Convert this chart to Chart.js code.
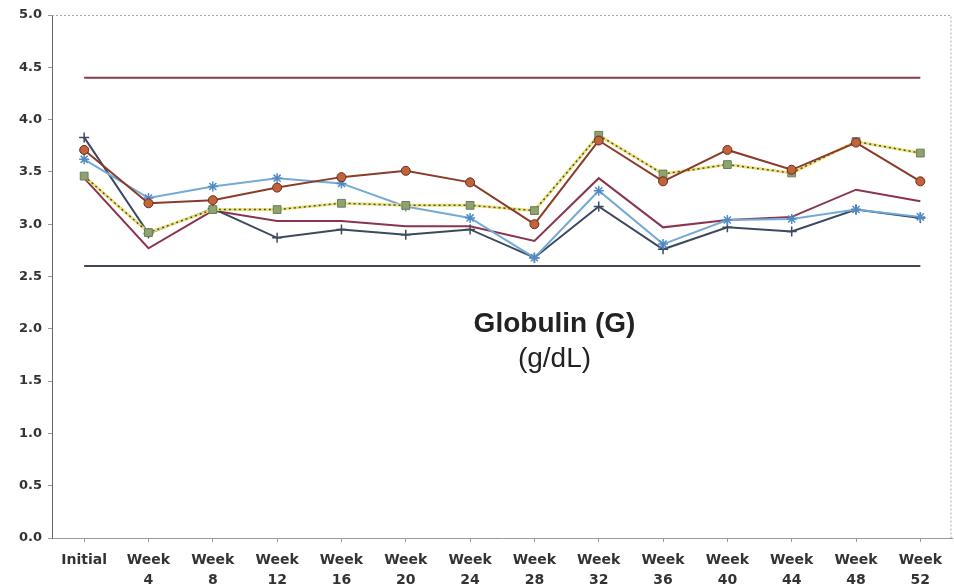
<!DOCTYPE html>
<html>
<head>
<meta charset="utf-8">
<script src="https://cdn.jsdelivr.net/npm/chart.js@4.4.1/dist/chart.umd.min.js"></script>
<style>
  html, body { margin: 0; padding: 0; background: #fff; overflow: hidden; }
  #wrap { width: 959px; height: 588px; }
</style>
</head>
<body>
<div id="wrap"><canvas id="globulin-chart"></canvas></div>
<script>
// visits along the x axis
const visits = [
  ["Initial"], ["Week", "4"], ["Week", "8"], ["Week", "12"], ["Week", "16"],
  ["Week", "20"], ["Week", "24"], ["Week", "28"], ["Week", "32"], ["Week", "36"],
  ["Week", "40"], ["Week", "44"], ["Week", "48"], ["Week", "52"],
];

// globulin values, g/dL
const circleGroup = [3.71, 3.20, 3.23, 3.35, 3.45, 3.51, 3.40, 3.00, 3.80, 3.41, 3.71, 3.52, 3.78, 3.41];
const squareGroup = [3.46, 2.92, 3.14, 3.14, 3.20, 3.18, 3.18, 3.13, 3.85, 3.48, 3.57, 3.49, 3.79, 3.68];
const starGroup   = [3.62, 3.25, 3.36, 3.44, 3.39, 3.17, 3.06, 2.68, 3.32, 2.81, 3.04, 3.05, 3.14, 3.07];
const plusGroup   = [3.83, 2.91, 3.15, 2.87, 2.95, 2.90, 2.95, 2.68, 3.17, 2.76, 2.97, 2.93, 3.14, 3.06];
const plainGroup  = [3.44, 2.77, 3.13, 3.03, 3.03, 2.98, 2.98, 2.84, 3.44, 2.97, 3.04, 3.07, 3.33, 3.22];

// normal range
const upperLimit = 4.4;
const lowerLimit = 2.6;

const yTicks = [0, 0.5, 1, 1.5, 2, 2.5, 3, 3.5, 4, 4.5, 5];

const tickFont = { family: "DejaVu Sans", size: 14, weight: "bold", lineHeight: 1.4 };

// plot frame + caption inside the plot
const framePlugin = {
  id: "frame",
  beforeDatasetsDraw(chart) {
    const { ctx, chartArea: a } = chart;
    ctx.save();
    ctx.strokeStyle = "#a8a8a8";
    ctx.lineWidth = 1;
    ctx.setLineDash([2, 2]);
    ctx.beginPath();
    ctx.moveTo(a.left, a.top + 0.5);
    ctx.lineTo(a.right - 1.5, a.top + 0.5);
    ctx.lineTo(a.right - 1.5, a.bottom);
    ctx.stroke();
    ctx.restore();
  },
  afterDatasetsDraw(chart) {
    const { ctx, chartArea: a } = chart;
    const cx = a.left + a.width * 0.558;
    ctx.save();
    ctx.fillStyle = "#222";
    ctx.textAlign = "center";
    ctx.textBaseline = "alphabetic";
    ctx.font = "bold 28px 'Liberation Sans', Arial, sans-serif";
    ctx.fillText("Globulin (G)", cx, a.top + 317);
    ctx.font = "28px 'Liberation Sans', Arial, sans-serif";
    ctx.fillText("(g/dL)", cx, a.top + 352);
    ctx.restore();
  },
};

const limitLine = (value, color) => ({
  data: visits.map(() => value),
  borderColor: color,
  borderWidth: 2,
  pointRadius: 0,
});

const config = {
  type: "line",
  data: {
    labels: visits,
    datasets: [
      {
        label: "Group A",
        data: circleGroup,
        borderColor: "#8a3b2a",
        borderWidth: 2,
        pointStyle: "circle",
        pointRadius: 4.5,
        pointBackgroundColor: "#c0643c",
        pointBorderColor: "#6e2a1c",
        pointBorderWidth: 1,
      },
      {
        label: "Group B",
        data: squareGroup,
        borderColor: "#4e4e34",
        borderWidth: 1.5,
        borderDash: [2, 3],
        pointStyle: "rect",
        pointRadius: 5.5,
        pointBackgroundColor: "#8fa36e",
        pointBorderColor: "#6a7d58",
        pointBorderWidth: 1,
      },
      {
        label: "Group B (shade)",
        data: squareGroup,
        borderColor: "#ece27a",
        borderWidth: 3,
        pointRadius: 0,
      },
      {
        label: "Group C",
        data: starGroup,
        borderColor: "#74aad6",
        borderWidth: 2,
        pointStyle: "star",
        pointRadius: 5,
        pointBorderColor: "#4f8cc4",
        pointBorderWidth: 1.5,
      },
      {
        label: "Group D",
        data: plusGroup,
        borderColor: "#3c4a60",
        borderWidth: 2,
        pointStyle: "cross",
        pointRadius: 5,
        pointBorderColor: "#3c4a60",
        pointBorderWidth: 1.5,
      },
      {
        label: "Group E",
        data: plainGroup,
        borderColor: "#8a3450",
        borderWidth: 2,
        pointRadius: 0,
      },
      limitLine(upperLimit, "#8a3a4a"),
      limitLine(lowerLimit, "#3f4658"),
    ],
  },
  options: {
    responsive: true,
    maintainAspectRatio: false,
    animation: false,
    layout: { padding: { top: 15, right: 0, left: 0, bottom: 0 } },
    plugins: {
      legend: { display: false },
      title: { display: false },
      tooltip: { enabled: false },
    },
    elements: { line: { tension: 0 } },
    scales: {
      x: {
        offset: true,
        grid: { display: true, drawOnChartArea: false, tickLength: 4, color: "#999" },
        border: { color: "#9a9a9a", dash: [2, 2] },
        ticks: { color: "#333", font: tickFont, padding: 9, maxRotation: 0, autoSkip: false },
        afterFit: (scale) => {
          scale.height = 50;
          scale.paddingLeft = 0;
          scale.paddingRight = 0;
        },
      },
      y: {
        min: 0,
        max: 5,
        afterBuildTicks: (scale) => { scale.ticks = yTicks.map((v) => ({ value: v })); },
        grid: { display: true, drawOnChartArea: false, tickLength: 4, color: "#999" },
        border: { color: "#666" },
        ticks: {
          color: "#333",
          font: { family: "DejaVu Sans", size: 13, weight: "bold" },
          padding: 6,
          callback: (v) => Number(v).toFixed(1),
        },
        afterFit: (scale) => { scale.width = 52; },
      },
    },
  },
  plugins: [framePlugin],
};

const globulinChart = new Chart(document.getElementById("globulin-chart"), config);
</script>
</body>
</html>
